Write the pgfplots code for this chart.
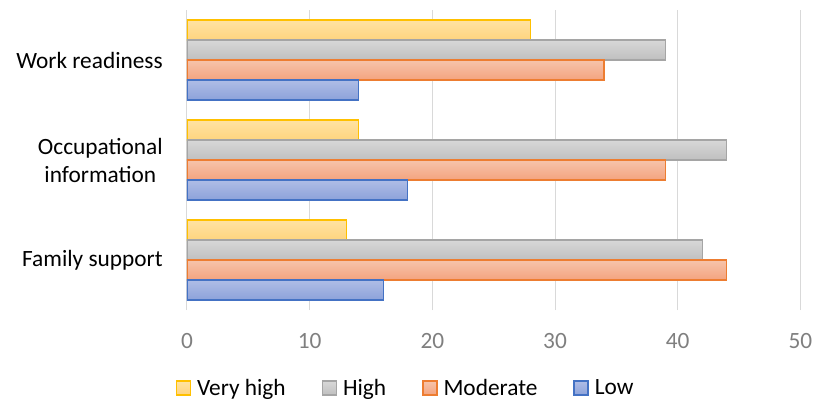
\documentclass[border=0pt]{standalone}
\usepackage{pgfplots}
\pgfplotsset{compat=1.18}
\usepackage{fontspec}
\setmainfont{Carlito}
\definecolor{ytop}{HTML}{FFE3A3}
\definecolor{ybot}{HTML}{FFD47E}
\definecolor{ybord}{HTML}{FFC000}
\definecolor{gtop}{HTML}{D8D8D8}
\definecolor{gbot}{HTML}{BFBFBF}
\definecolor{gbord}{HTML}{A5A5A5}
\definecolor{otop}{HTML}{F6C4AB}
\definecolor{obot}{HTML}{F4A37E}
\definecolor{obord}{HTML}{ED7D31}
\definecolor{btop}{HTML}{AFBDE6}
\definecolor{bbot}{HTML}{8CA2DA}
\definecolor{bbord}{HTML}{4472C4}
\definecolor{gridc}{HTML}{D9D9D9}
\definecolor{tickgray}{HTML}{7F7F7F}
\begin{document}
\begin{tikzpicture}
\useasboundingbox (-140.25pt,-70.5pt) rectangle (469.5pt,232.5pt);
\begin{axis}[
  at={(0,0)}, anchor=south west,
  scale only axis, width=460pt, height=225pt,
  xmin=0, xmax=50, ymin=-0.5, ymax=2.5,
  xtick={0,10,...,50}, ytick={0,1,2},
  yticklabels={Family support, {Occupational\\information}, Work readiness},
  yticklabel style={align=center, anchor=east, inner sep=0pt, xshift=-18pt, font=\fontsize{17.5}{21}\selectfont, text=black},
  xticklabel style={anchor=center, yshift=-23pt, font=\fontsize{17.5}{21}\selectfont, text=tickgray},
  /pgf/number format/assume math mode=true,
  xmajorgrids, grid style={gridc, line width=0.75pt},
  axis line style={draw=none},
  major tick length=0pt,
  bar width=15pt,
  legend style={at={(0.357,-0.26)}, anchor=center, draw=none, fill=none, legend columns=4,
    font=\fontsize{17.5}{21}\selectfont,
    /tikz/every even column/.append style={column sep=25pt}},
  legend cell align=left,
  legend image code/.code={\draw[#1] (0pt,-5.25pt) rectangle (10.5pt,5.25pt);
    \node[anchor=west, inner sep=0pt, minimum size=0pt] at (10.5pt,0pt) {\hspace*{2.5pt}};},
  vh/.style={xbar, bar shift=22.5pt, draw=ybord, line width=1pt, top color=ytop, bottom color=ybot},
  hi/.style={xbar, bar shift=7.5pt, draw=gbord, line width=1pt, top color=gtop, bottom color=gbot},
  mo/.style={xbar, bar shift=-7.5pt, draw=obord, line width=1pt, top color=otop, bottom color=obot},
  lo/.style={xbar, bar shift=-22.5pt, draw=bbord, line width=1pt, top color=btop, bottom color=bbot},
]
% Category positions: 0 = Family support, 1 = Occupational information, 2 = Work readiness
\addplot[vh] coordinates {(13,0)};
\addlegendentry{Very high}
\addplot[hi] coordinates {(42,0)};
\addlegendentry{High}
\addplot[mo] coordinates {(44,0)};
\addlegendentry{Moderate}
\addplot[lo] coordinates {(16,0)};
\addlegendentry{Low}
\addplot[vh, forget plot] coordinates {(14,1)};
\addplot[vh, forget plot] coordinates {(28,2)};
\addplot[hi, forget plot] coordinates {(44,1)};
\addplot[hi, forget plot] coordinates {(39,2)};
\addplot[mo, forget plot] coordinates {(39,1)};
\addplot[mo, forget plot] coordinates {(34,2)};
\addplot[lo, forget plot] coordinates {(18,1)};
\addplot[lo, forget plot] coordinates {(14,2)};
\end{axis}
\end{tikzpicture}
\end{document}
